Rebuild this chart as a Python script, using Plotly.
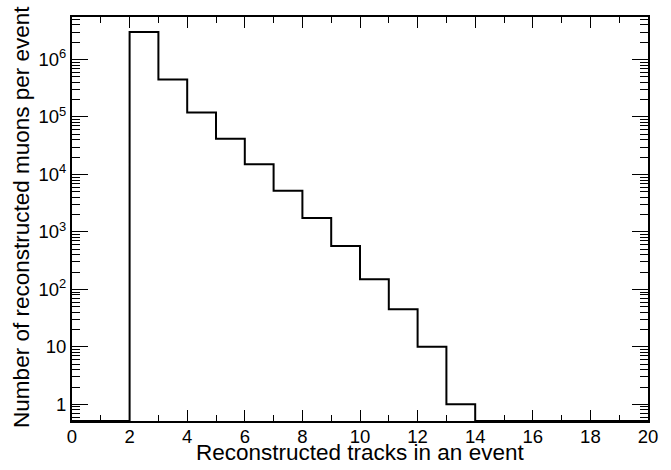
import plotly.graph_objects as go

# bin edges 0..20, one count per unit-wide bin
bin_edges = list(range(0, 21))
counts = [0, 0, 3.0e6, 4.5e5, 1.2e5, 4.2e4, 1.5e4, 5.2e3, 1.75e3, 570,
          150, 45, 10, 1, 0, 0, 0, 0, 0, 0]

y_tickvals = [1, 10, 1e2, 1e3, 1e4, 1e5, 1e6]
y_ticktext = ["1", "10", "10<sup>2</sup>", "10<sup>3</sup>", "10<sup>4</sup>",
              "10<sup>5</sup>", "10<sup>6</sup>"]
x_tickvals = [0, 2, 4, 6, 8, 10, 12, 14, 16, 18, 20]

y_log_range = [-0.29, 6.74]
y_floor = 10 ** y_log_range[0]

# empty bins sit on the bottom of the frame
plot_y = [c if c > 0 else y_floor for c in counts]
plot_y.append(plot_y[-1])

fig = go.Figure()
fig.add_trace(go.Scatter(
    x=bin_edges,
    y=plot_y,
    mode="lines",
    line=dict(shape="hv", color="black", width=2),
    cliponaxis=False,
    showlegend=False,
    hoverinfo="skip",
))

font = "Liberation Sans, Arial, Helvetica, sans-serif"

fig.update_layout(
    width=671,
    height=470,
    margin=dict(l=72, r=23, t=17, b=49, autoexpand=False),
    plot_bgcolor="white",
    paper_bgcolor="white",
    font=dict(family=font, color="black", size=18),
    xaxis=dict(
        range=[0, 20],
        tickvals=x_tickvals,
        ticks="inside",
        ticklen=11,
        tickwidth=1,
        tickcolor="black",
        minor=dict(dtick=1, ticks="inside", ticklen=6, tickwidth=1, tickcolor="black"),
        showgrid=False,
        zeroline=False,
        showline=True,
        linecolor="black",
        linewidth=2,
        mirror="allticks",
        tickfont=dict(size=18.5),
        ticklabelstandoff=-2,
        automargin=False,
    ),
    yaxis=dict(
        type="log",
        range=y_log_range,
        tickvals=y_tickvals,
        ticktext=y_ticktext,
        ticks="inside",
        ticklen=16,
        tickwidth=1,
        tickcolor="black",
        minor=dict(dtick="D1", ticks="inside", ticklen=8, tickwidth=1, tickcolor="black"),
        showgrid=False,
        zeroline=False,
        showline=True,
        linecolor="black",
        linewidth=2,
        mirror="allticks",
        tickfont=dict(size=18.5),
        automargin=False,
    ),
)

fig.add_annotation(
    text="Reconstructed tracks in an event",
    xref="paper", yref="paper", x=0.5, y=-0.078,
    xanchor="center", yanchor="middle", showarrow=False,
    font=dict(size=22.5),
)
fig.add_annotation(
    text="Number of reconstructed muons per event",
    xref="paper", yref="paper", x=-0.088, y=0.506,
    xanchor="center", yanchor="middle", textangle=-90, showarrow=False,
    font=dict(size=22.5),
)

fig.write_html(
    "out.html",
    config={"displayModeBar": False},
    post_script="document.body.style.margin='0';document.body.style.overflow='hidden';",
)
